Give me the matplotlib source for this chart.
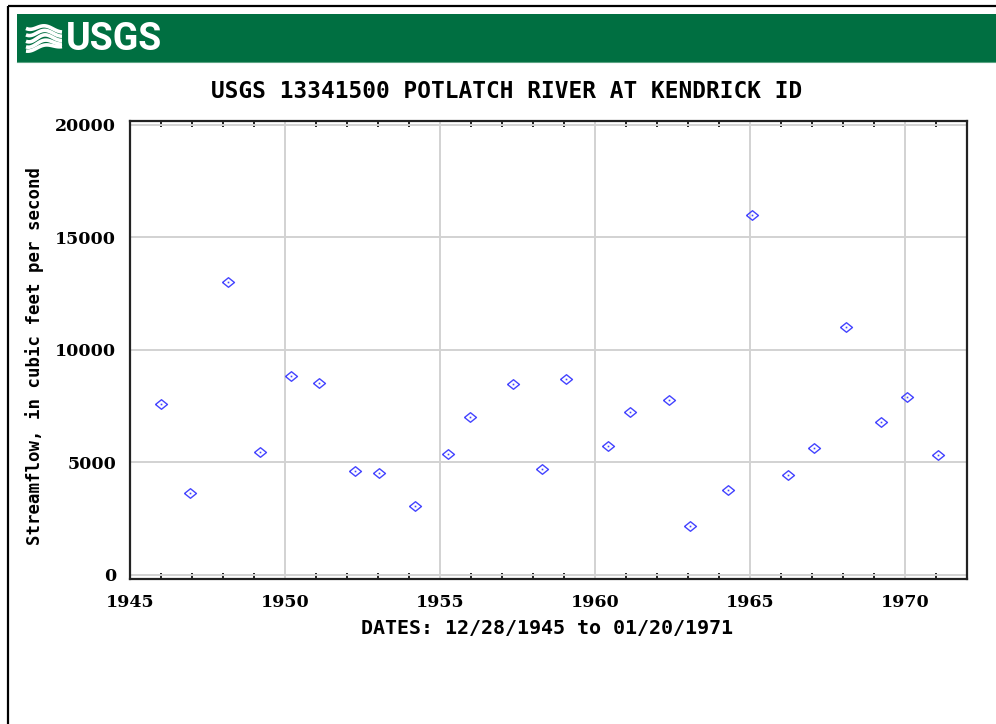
import numpy as np
import matplotlib.pyplot as plt
from matplotlib.patches import Rectangle
from matplotlib.ticker import MultipleLocator
from datetime import date

# annual peak streamflow, Potlatch River at Kendrick ID
peak_dates = ["1945-12-28", "1946-12-10", "1948-03-01", "1949-03-17", "1950-03-17",
              "1951-02-06", "1952-04-09", "1953-01-15", "1954-03-15", "1955-04-02",
              "1955-12-20", "1957-05-12", "1958-04-22", "1959-01-30", "1960-06-03",
              "1961-02-18", "1962-05-26", "1963-01-26", "1964-04-16", "1965-01-20",
              "1966-03-25", "1967-01-19", "1968-02-10", "1969-03-22", "1970-01-20",
              "1971-01-20"]
peak_flow = [7580, 3640, 13000, 5430, 8840, 8510, 4590, 4500, 3040, 5370,
             6990, 8450, 4700, 8700, 5710, 7240, 7770, 2170, 3770, 16000,
             4440, 5640, 11000, 6780, 7900, 5310]

year_ticks = [1945, 1950, 1955, 1960, 1965, 1970]
flow_ticks = [0, 5000, 10000, 15000, 20000]

title = "USGS 13341500 POTLATCH RIVER AT KENDRICK ID"
xlabel = "DATES: 12/28/1945 to 01/20/1971"
ylabel = "Streamflow, in cubic feet per second"


def decimal_year(s):
    d = date.fromisoformat(s)
    start = date(d.year, 1, 1)
    length = (date(d.year + 1, 1, 1) - start).days
    return d.year + (d - start).days / length


x = np.array([decimal_year(s) for s in peak_dates])
y = np.array(peak_flow)

W, H = 996, 724
fig = plt.figure(figsize=(W / 100, H / 100), dpi=100)

# page decoration: frame, green banner and logo
deco = fig.add_axes([0, 0, 1, 1], zorder=0)
deco.set_xlim(0, W)
deco.set_ylim(H, 0)
deco.axis("off")
deco.plot([7.5, 7.5], [H, 6], color="black", lw=1.6, solid_capstyle="butt")
deco.plot([7.5, W], [6, 6], color="black", lw=1.6, solid_capstyle="butt")
deco.add_patch(Rectangle((17, 14), W - 17, 48, facecolor="#006f41", edgecolor="none"))
deco.plot([17, W], [62, 62], color="#5aa382", lw=0.8)

wx = np.linspace(26, 62, 60)
t = (wx - 26) / 36
for off, amp in [(26, 3.0), (32, 3.5), (38, 4.0), (44, 3.5), (49, 2.5)]:
    wy = off + amp * np.sin(2 * np.pi * (t * 1.1 + 0.15)) * (1 - 0.4 * t) + (38 - off) * 0.35 * t
    deco.plot(wx, wy, color="white", lw=2.6, solid_capstyle="butt")
deco.text(66, 39, "USGS", color="white", fontsize=27, fontweight="bold",
          family="Roboto", va="center", ha="left")

fig.text(507 / W, 1 - 92 / H, title, ha="center", va="center",
         family="DejaVu Sans Mono", fontweight="bold", fontsize=16.4)
fig.text(547 / W, 1 - 629 / H, xlabel, ha="center", va="center",
         family="DejaVu Sans Mono", fontweight="bold", fontsize=14.4)
fig.text(35 / W, 1 - 356 / H, ylabel, ha="center", va="center", rotation=90,
         family="DejaVu Sans Mono", fontweight="bold", fontsize=12.5)

ax = fig.add_axes([130 / W, 1 - 579 / H, 837 / W, 458.3 / H], zorder=1)
ax.set_xlim(1945, 1972)
ax.set_ylim(-200, 20170)
ax.xaxis.set_major_locator(plt.FixedLocator(year_ticks))
ax.xaxis.set_minor_locator(MultipleLocator(1))
ax.yaxis.set_major_locator(plt.FixedLocator(flow_ticks))
ax.grid(True, which="major", color="#d2d2d2", lw=1.4)
ax.set_axisbelow(True)

for side in ax.spines.values():
    side.set_color("#222222")
    side.set_linewidth(1.6)

ax.tick_params(axis="x", which="major", length=0, pad=11)
ax.tick_params(axis="x", which="minor", direction="in", length=4, width=1.4,
               top=True, bottom=True, color="#222222")
ax.tick_params(axis="y", which="both", length=0, pad=10)
for lab in ax.get_xticklabels() + ax.get_yticklabels():
    lab.set_family("DejaVu Serif")
    lab.set_fontweight("bold")
    lab.set_fontsize(12.5)

diamond = [(-1, 0), (0, 0.8), (1, 0), (0, -0.8), (-1, 0)]
ax.plot(x, y, ls="none", marker=diamond, markersize=8.6, markerfacecolor="none",
        markeredgecolor="#4444ff", markeredgewidth=1.0)
ax.plot(x, y, ls="none", marker="s", markersize=1.2, color="#4444ff",
        markeredgewidth=0)

fig.savefig("out.png", dpi=100, facecolor="white")
